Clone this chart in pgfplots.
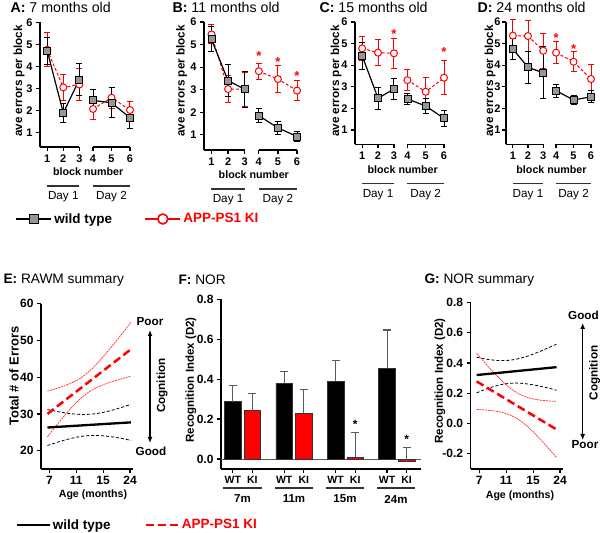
\documentclass[border=0pt]{standalone}
\usepackage{pgfplots}
\pgfplotsset{compat=1.18}
\usepackage{pgfplotstable}
\usepackage{fontspec}
\setmainfont{Liberation Sans}
\usetikzlibrary{arrows.meta}
\definecolor{kired}{RGB}{255,0,0}
\definecolor{wtgray}{RGB}{150,150,150}
\definecolor{errgray}{RGB}{90,90,90}
\newcommand{\fs}[1]{\fontsize{#1}{#1}\selectfont}

% ---------- top panels: block, mean, sem ----------
\pgfplotstableread{
x y e
1 4.70 0.62
2 1.88 0.43
3 3.40 0.72
3.4 nan 0
3.85 2.45 0.48
5 2.34 0.69
6.15 1.66 0.48
}\Awt
\pgfplotstableread{
x y e
1 4.75 0.78
2 3.04 0.60
3 3.17 0.72
3.4 nan 0
3.85 2.06 0.50
5 2.57 0.47
6.15 2.01 0.38
}\Aki
\pgfplotstableread{
x y e
1 5.23 0.55
2 3.40 0.70
3 3.02 0.80
3.4 nan 0
3.85 1.85 0.32
5 1.31 0.28
6.15 0.93 0.22
}\Bwt
\pgfplotstableread{
x y e
1 5.45 0.42
2 3.03 0.60
3 3.02 0.75
3.4 nan 0
3.85 3.82 0.35
5 3.47 0.60
6.15 2.96 0.45
}\Bki
\pgfplotstableread{
x y e
1 4.44 0.62
2 2.47 0.50
3 2.90 0.49
3.4 nan 0
3.85 2.44 0.26
5 2.11 0.36
6.15 1.54 0.38
}\Cwt
\pgfplotstableread{
x y e
1 4.78 0.55
2 4.58 0.59
3 4.55 0.69
3.4 nan 0
3.85 3.31 0.50
5 2.77 0.65
6.15 3.42 0.78
}\Cki
\pgfplotstableread{
x y e
1 4.75 0.50
2 3.90 0.73
3 3.65 1.21
3.4 nan 0
3.85 2.82 0.30
5 2.39 0.20
6.15 2.54 0.28
}\Dwt
\pgfplotstableread{
x y e
1 5.37 0.74
2 5.35 0.70
3 4.67 0.80
3.4 nan 0
3.85 4.58 0.50
5 4.16 0.46
6.15 3.36 0.66
}\Dki

% ---------- E: RAWM summary (fit, upper CI, lower CI) ----------
\pgfplotstableread{
x fit up lo
0.93 26.30 31.20 21.40
1.24 26.44 30.73 22.15
1.55 26.58 30.32 22.84
1.86 26.72 30.02 23.42
2.17 26.86 29.86 23.86
2.48 27.00 29.90 24.10
2.79 27.14 30.14 24.14
3.10 27.28 30.58 23.98
3.41 27.42 31.16 23.68
3.72 27.56 31.85 23.27
4.03 27.70 32.60 22.80
}\Ewt
\pgfplotstableread{
x fit up lo
0.93 30.00 36.20 23.80
1.24 31.76 36.87 26.65
1.55 33.52 37.63 29.41
1.86 35.28 38.56 32.00
2.17 37.04 39.81 34.27
2.48 38.80 41.57 36.03
2.79 40.56 43.84 37.28
3.10 42.32 46.43 38.21
3.41 44.08 49.19 38.97
3.72 45.84 52.04 39.64
4.03 47.60 54.93 40.27
}\Eki

% ---------- F: NOR (bar position, mean, sem) ----------
\pgfplotstableread{
x y e
-0.19 0.288 0.082
0.81 0.380 0.058
1.81 0.390 0.103
2.81 0.454 0.192
}\Fwt
\pgfplotstableread{
x y e
0.19 0.242 0.088
1.19 0.228 0.122
2.19 0.008 0.127
3.19 -0.013 0.071
}\Fki

% ---------- G: NOR summary ----------
\pgfplotstableread{
x fit up lo
0.900 0.3200 0.4375 0.2025
1.197 0.3252 0.4269 0.2235
1.494 0.3304 0.4190 0.2418
1.791 0.3356 0.4152 0.2560
2.088 0.3408 0.4170 0.2646
2.385 0.3460 0.4250 0.2670
2.682 0.3512 0.4387 0.2637
2.979 0.3564 0.4566 0.2562
3.276 0.3616 0.4774 0.2458
3.573 0.3668 0.5001 0.2335
3.870 0.3720 0.5239 0.2201
}\Gwt
\pgfplotstableread{
x fit up lo
0.900 0.2780 0.4630 0.0930
1.197 0.2463 0.4028 0.0898
1.494 0.2146 0.3446 0.0846
1.791 0.1829 0.2902 0.0756
2.088 0.1512 0.2422 0.0602
2.385 0.1195 0.2044 0.0346
2.682 0.0878 0.1788 -0.0032
2.979 0.0561 0.1634 -0.0512
3.276 0.0244 0.1544 -0.1056
3.573 -0.0073 0.1492 -0.1638
3.870 -0.0390 0.1460 -0.2240
}\Gki

\pgfplotsset{
  common/.style={scale only axis, axis lines=left, axis line style={-, line width=1.2pt},
    tick style={black, line width=1.2pt}, tick align=outside, major tick length=4pt,
    /pgf/number format/assume math mode=true, clip=false,
    legend style={draw=none, fill=none, inner sep=0pt, anchor=west},
    legend cell align=left},
  topax/.style={common, x axis line style={draw=none},
    xmin=0.55, xmax=6.15, ymin=0.33, ymax=6,
    xtick={1,2,3,3.85,5,6.15}, xticklabels={1,2,3,4,5,6}, ytick={1,2,3,4,5,6},
    ticklabel style={font=\bfseries\fs{11}}, unbounded coords=jump,
    legend style={font=\bfseries\fs{13.5}},
    legend image code/.code={\draw[mark repeat=2,mark phase=2,##1] plot coordinates {(0pt,0pt) (17.5pt,0pt) (35pt,0pt)};}},
  botax/.style={common, ticklabel style={font=\bfseries\fs{12}},
    legend style={font=\bfseries\fs{13.5}},
    legend image code/.code={\draw[##1] (0pt,0pt) -- (33pt,0pt);}},
  wtplot/.style={forget plot, black, line width=1.2pt, mark=square*, mark size=3.5pt,
    mark options={fill=wtgray, draw=black, line width=0.9pt},
    error bars/.cd, y dir=both, y explicit, error bar style={black, line width=1pt},
    error mark options={rotate=90, mark size=3pt, black, line width=1pt}},
  kiplot/.style={forget plot, kired, line width=1pt, dash pattern=on 3pt off 2pt, mark=*, mark size=3.5pt,
    mark options={solid, fill=white, draw=kired, line width=1pt},
    error bars/.cd, y dir=both, y explicit, error bar style={kired, solid, line width=1pt},
    error mark options={rotate=90, mark size=3pt, kired, solid, line width=1pt}},
  wtfit/.style={forget plot, black, line width=2.3pt},
  kifit/.style={forget plot, kired, line width=2.5pt, dash pattern=on 8pt off 4pt},
  wtci/.style={forget plot, black, line width=0.8pt, dash pattern=on 3pt off 2pt, smooth},
  kici/.style={forget plot, kired!85, line width=0.7pt, dash pattern=on 2pt off 0.8pt, smooth},
  fbar/.style={forget plot, ybar, bar width=16.7pt, bar shift=0pt, draw=black!80, line width=0.6pt,
    error bars/.cd, y dir=plus, y explicit, error bar style={errgray, line width=1.1pt},
    error mark options={rotate=90, mark size=4pt, errgray, line width=1.1pt}},
}

\newcommand{\daydeco}{%
  \draw[line width=1.2pt] (axis cs:0.55,0.33) -- (axis cs:3,0.33);
  \draw[line width=1.2pt] (axis cs:3.85,0.33) -- (axis cs:6.15,0.33);
  \node[font=\bfseries\fs{10.7}] at ([yshift=-25pt]axis cs:3.55,0.33) {block number};
  \draw[line width=1.1pt, black!80] ([yshift=-39pt]axis cs:1,0.33) -- ([yshift=-39pt]axis cs:3,0.33);
  \draw[line width=1.1pt, black!80] ([yshift=-39pt]axis cs:3.85,0.33) -- ([yshift=-39pt]axis cs:6.15,0.33);
  \node[font=\fs{11.7}] at ([yshift=-50pt]axis cs:2,0.33) {Day 1};
  \node[font=\fs{11.7}] at ([yshift=-50pt]axis cs:5,0.33) {Day 2};
}
\newcommand{\tstar}[2]{\node[kired, font=\bfseries\fs{13}, anchor=base] at ([yshift=-7.5pt]axis cs:#1,#2) {*};}

\begin{document}
\begin{tikzpicture}
\useasboundingbox (0pt,0pt) rectangle (600pt,533pt);

% ---------------- A ----------------
\begin{axis}[topax, at={(40pt,386pt)}, anchor=south west, width=90pt, height=124.7pt,
  legend style={at={(-0.2778,-0.5774)}}]
\addlegendimage{black, line width=2.2pt, mark=square*, mark size=4.5pt, mark options={fill=wtgray, draw=black, line width=1pt}}
\addlegendentry{wild type}
\addplot[kiplot] table[x=x, y=y, y error=e] {\Aki};
\addplot[wtplot] table[x=x, y=y, y error=e] {\Awt};
\daydeco
\end{axis}

% ---------------- B ----------------
\begin{axis}[topax, at={(204pt,383pt)}, anchor=south west, width=93pt, height=128pt,
  legend style={at={(-0.645,-0.539)}}]
\addlegendimage{kired, line width=2.2pt, mark=*, mark size=5pt, mark options={fill=white, draw=kired, line width=1.6pt}}
\addlegendentry{\textcolor{kired}{APP-PS1 KI}}
\addplot[kiplot] table[x=x, y=y, y error=e] {\Bki};
\addplot[wtplot] table[x=x, y=y, y error=e] {\Bwt};
\daydeco
\tstar{3.85}{4.64}\tstar{5}{4.35}\tstar{6.15}{3.76}
\end{axis}

% ---------------- C ----------------
\begin{axis}[topax, at={(355pt,388.5pt)}, anchor=south west, width=89pt, height=122.5pt]
\addplot[kiplot] table[x=x, y=y, y error=e] {\Cki};
\addplot[wtplot] table[x=x, y=y, y error=e] {\Cwt};
\daydeco
\tstar{3}{5.6}\tstar{6.15}{4.73}
\end{axis}

% ---------------- D ----------------
\begin{axis}[topax, at={(506pt,388.5pt)}, anchor=south west, width=85pt, height=122.5pt,
  yticklabel style={xshift=2pt}]
\addplot[kiplot] table[x=x, y=y, y error=e] {\Dki};
\addplot[wtplot] table[x=x, y=y, y error=e] {\Dwt};
\daydeco
\tstar{3.85}{5.4}\tstar{5}{4.9}
\end{axis}

% ---------------- E ----------------
\begin{axis}[botax, at={(41pt,64pt)}, anchor=south west, width=92pt, height=165.2pt,
  xmin=0.69, xmax=4.11, ymin=15, ymax=60, xtick={1,2,3,4}, xticklabels={7,11,15,24},
  ytick={20,30,40,50,60}, legend style={at={(-0.2826,-0.339)}}]
\addlegendimage{black, line width=2.6pt}
\addlegendentry{wild type}
\addplot[wtci] table[x=x, y=up] {\Ewt};
\addplot[wtci] table[x=x, y=lo] {\Ewt};
\addplot[kici] table[x=x, y=up] {\Eki};
\addplot[kici] table[x=x, y=lo] {\Eki};
\addplot[wtfit] table[x=x, y=fit] {\Ewt};
\addplot[kifit] table[x=x, y=fit] {\Eki};
\end{axis}

% ---------------- F ----------------
\begin{axis}[botax, at={(221pt,64pt)}, anchor=south west, width=200pt, height=169.7pt,
  xmin=-0.42, xmax=3.47, ymin=-0.05, ymax=0.8, ytick={0,0.2,0.4,0.6,0.8},
  yticklabel style={/pgf/number format/.cd, fixed, fixed zerofill, precision=1},
  xtick={-0.19,0.19,0.81,1.19,1.81,2.19,2.81,3.19},
  xticklabels={WT,KI,WT,KI,WT,KI,WT,KI}, xticklabel style={font=\bfseries\fs{10.5}},
  legend style={at={(-0.385,-0.33)}}]
\addlegendimage{kired, line width=2.6pt, dash pattern=on 8pt off 4pt}
\addlegendentry{\textcolor{kired}{APP-PS1 KI}}
\draw[black!65, line width=0.9pt] (axis cs:-0.42,0) -- (axis cs:3.47,0);
\addplot[fill=black, fbar] table[x=x, y=y, y error=e] {\Fwt};
\addplot[fill=kired, fbar] table[x=x, y=y, y error=e] {\Fki};
\node[font=\bfseries\fs{12}, anchor=base] at ([yshift=-7pt]axis cs:2.19,0.188) {*};
\node[font=\bfseries\fs{12}, anchor=base] at ([yshift=-7pt]axis cs:3.19,0.113) {*};
\end{axis}

% ---------------- G ----------------
\begin{axis}[botax, at={(470.7pt,64pt)}, anchor=south west, width=92pt, height=166.7pt,
  xmin=0.68, xmax=4.1, ymin=-0.3, ymax=0.8, xtick={1,2,3,4}, xticklabels={7,11,15,24},
  ytick={-0.2,0,0.2,0.4,0.6,0.8},
  yticklabel style={/pgf/number format/.cd, fixed, fixed zerofill, precision=1}]
\addplot[wtci] table[x=x, y=up] {\Gwt};
\addplot[wtci] table[x=x, y=lo] {\Gwt};
\addplot[kici] table[x=x, y=up] {\Gki};
\addplot[kici] table[x=x, y=lo] {\Gki};
\addplot[wtfit] table[x=x, y=fit] {\Gwt};
\addplot[kifit] table[x=x, y=fit] {\Gki};
\end{axis}

% ---------------- titles and labels ----------------
\node[anchor=west, font=\fs{14.2}] at (7pt,526pt) {\textbf{A:} 7 months old};
\node[anchor=west, font=\fs{14.2}] at (169pt,526pt) {\textbf{B:} 11 months old};
\node[anchor=west, font=\fs{14.2}] at (316pt,526pt) {\textbf{C:} 15 months old};
\node[anchor=west, font=\fs{14.2}] at (474pt,526pt) {\textbf{D:} 24 months old};
\foreach \xx in {19,181.7,336,490}{
  \node[rotate=90, font=\bfseries\fs{11.7}] at (\xx pt,452pt) {ave errors per block};
}
\node[anchor=west, font=\fs{13.7}] at (0pt,253pt) {\textbf{E:} RAWM summary};
\node[anchor=west, font=\fs{13.7}] at (175pt,253pt) {\textbf{F:} NOR};
\node[anchor=west, font=\fs{13.7}] at (421pt,253pt) {\textbf{G:} NOR summary};
\node[rotate=90, font=\bfseries\fs{13}] at (14pt,157pt) {Total \# of Errors};
\node[rotate=90, font=\bfseries\fs{11.5}] at (191pt,153pt) {Recognition Index (D2)};
\node[rotate=90, font=\bfseries\fs{11.5}] at (440pt,152pt) {Recognition Index (D2)};
\node[font=\bfseries\fs{10.6}] at (93pt,38.7pt) {Age (months)};
\node[font=\bfseries\fs{10.6}] at (520pt,37pt) {Age (months)};
% F group labels
\foreach \a/\b/\lab in {223/262/7m,275/313/11m,326/364/15m,377/415/24m}{
  \draw[line width=1.1pt, black!80] (\a pt,45pt) -- (\b pt,45pt);
  \node[font=\bfseries\fs{11.5}] at ({(\a+\b)/2*1pt},34pt) {\lab};
}
% cognition arrows
\draw[line width=1.2pt, {Latex[length=6pt,width=5pt]}-{Latex[length=6pt,width=5pt]}] (150pt,203pt) -- (150pt,90pt);
\node[font=\bfseries\fs{11.7}] at (150pt,211.3pt) {Poor};
\node[font=\bfseries\fs{11.7}] at (151pt,82pt) {Good};
\node[rotate=90, font=\bfseries\fs{11.7}] at (162pt,147.3pt) {Cognition};
\draw[line width=1.2pt, {Latex[length=6pt,width=5pt]}-{Latex[length=6pt,width=5pt]}] (582.7pt,210pt) -- (582.7pt,93pt);
\node[font=\bfseries\fs{11.7}] at (583.5pt,218pt) {Good};
\node[font=\bfseries\fs{11.7}] at (585pt,88pt) {Poor};
\node[rotate=90, font=\bfseries\fs{11.7}] at (594.5pt,160pt) {Cognition};
\end{tikzpicture}
\end{document}
